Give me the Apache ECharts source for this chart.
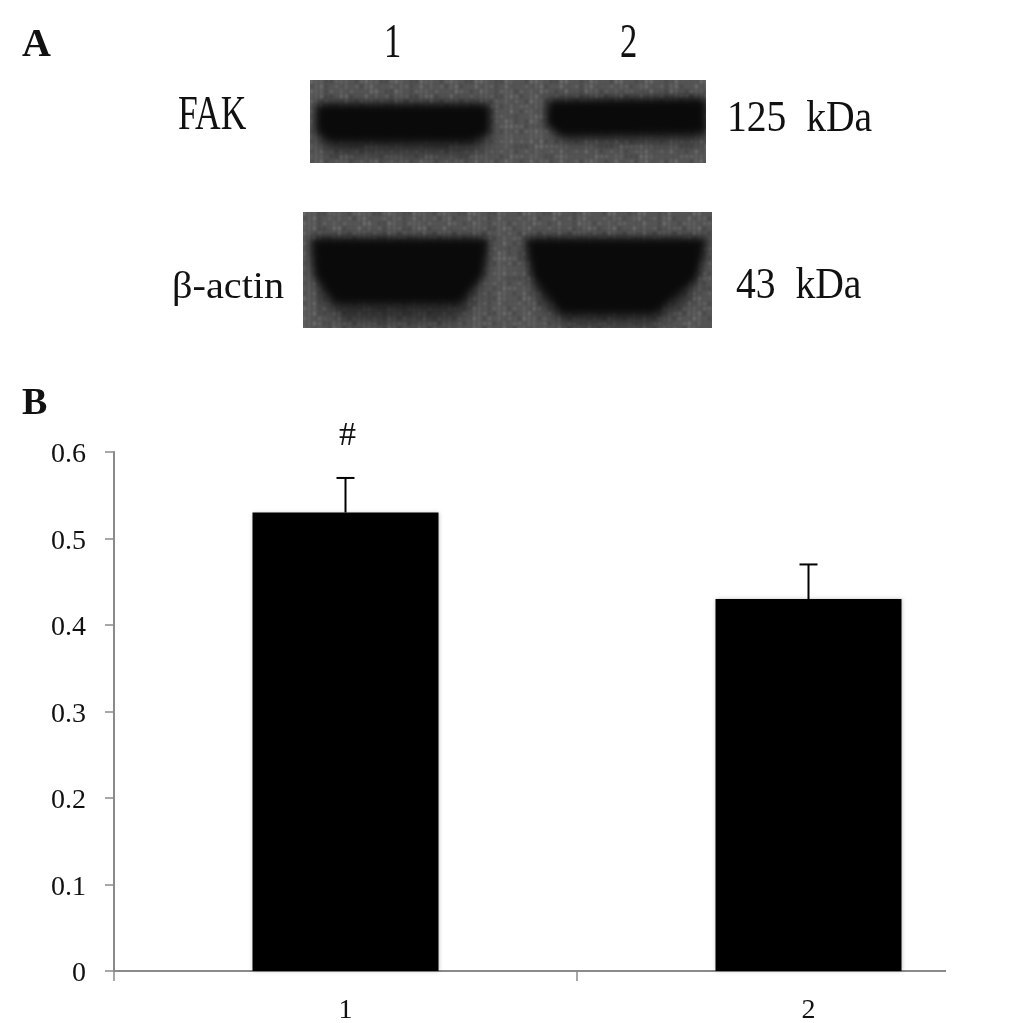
<!DOCTYPE html>
<html>
<head>
<meta charset="utf-8">
<style>
  html, body { margin: 0; padding: 0; background: #fff; }
  #chart { width: 946px; height: 1023px; }
</style>
<script src="https://cdn.jsdelivr.net/npm/echarts@6/dist/echarts.min.js"></script>
</head>
<body>
<div id="chart"></div>
<script>
  var categories = ['1', '2'];
  var values = [0.53, 0.43];
  var errors = [0.04, 0.04];
  var marks = ['#', ''];
  var yTicks = [0, 0.1, 0.2, 0.3, 0.4, 0.5, 0.6];

  var serif = '"Liberation Serif", serif';
  var chart = echarts.init(document.getElementById('chart'), null, { renderer: 'canvas' });

  function polygon (ctx, points, fill) {
    ctx.fillStyle = fill;
    ctx.beginPath();
    points.forEach(function (p, i) {
      if (i === 0) ctx.moveTo(p[0], p[1]);
      else ctx.lineTo(p[0], p[1]);
    });
    ctx.closePath();
    ctx.fill();
  }

  // paints one blot: grey grain, then a soft halo and a dark core per band
  function blot (w, h, halos, cores) {
    var c = document.createElement('canvas');
    c.width = w;
    c.height = h;
    var ctx = c.getContext('2d');
    ctx.fillStyle = '#555';
    ctx.fillRect(0, 0, w, h);
    ctx.filter = 'blur(1px)';
    for (var x = 0; x < w; x += 5) {
      var stripe = (x * 7) % 11 < 5 ? 'rgba(255,255,255,0.05)' : 'rgba(0,0,0,0.08)';
      ctx.fillStyle = stripe;
      ctx.fillRect(x, -4, 2, h + 8);
      for (var y = 0; y < h; y += 5) {
        var k = (x * 13 + y * 29 + x * y) % 17;
        ctx.fillStyle = k < 5 ? 'rgba(255,255,255,0.12)' : (k < 10 ? 'rgba(0,0,0,0.12)' : 'rgba(255,255,255,0.03)');
        ctx.fillRect(x, y, 3, 3);
      }
    }
    ctx.filter = 'blur(7px)';
    halos.forEach(function (p) { polygon(ctx, p, 'rgba(20,20,20,0.6)'); });
    ctx.filter = 'blur(4.5px)';
    cores.forEach(function (p) { polygon(ctx, p, '#0a0a0a'); });
    ctx.filter = 'none';
    return c;
  }

  function label (text, x, y, size, scaleX, weight) {
    return {
      type: 'text',
      x: x,
      y: y,
      scaleX: scaleX,
      style: {
        text: text,
        fill: '#111',
        font: (weight || 'normal') + ' ' + size + 'px ' + serif,
        textAlign: 'left',
        textVerticalAlign: 'middle'
      }
    };
  }

  var fakBlot = blot(396, 83,
    [[[8, 26], [178, 26], [176, 70], [150, 74], [24, 74], [8, 64]],
     [[236, 24], [394, 22], [394, 62], [250, 62]]],
    [[[6, 24], [180, 24], [180, 54], [160, 62], [20, 62], [6, 52]],
     [[238, 20], [396, 18], [396, 54], [250, 56], [236, 44]]]);

  var actinBlot = blot(409, 116,
    [[[8, 30], [184, 30], [172, 92], [150, 110], [40, 110], [18, 88]],
     [[220, 30], [402, 30], [388, 88], [350, 114], [262, 114], [234, 88]]],
    [[[8, 26], [186, 26], [180, 64], [156, 92], [32, 92], [12, 64]],
     [[222, 26], [404, 26], [394, 66], [352, 102], [258, 102], [230, 66]]]);

  var panelA = [
    label('A', 22, 46, 40, 1, 'bold'),
    label('B', 22, 404, 38, 1, 'bold'),
    label('1', 384, 44, 48, 0.72),
    label('2', 620, 44, 48, 0.72),
    label('FAK', 178, 116, 48, 0.74),
    label('125  kDa', 727, 119, 44, 0.9),
    label('β-actin', 172, 288, 38, 1.06),
    label('43  kDa', 736, 286, 44, 0.9),
    { type: 'image', x: 310, y: 80, style: { image: fakBlot, width: 396, height: 83 } },
    { type: 'image', x: 303, y: 212, style: { image: actinBlot, width: 409, height: 116 } }
  ];

  var option = {
    animation: false,
    backgroundColor: '#fff',
    grid: { left: 114, top: 452, width: 926, height: 519, outerBoundsMode: 'none' },
    xAxis: {
      type: 'category',
      data: categories,
      axisLine: { onZero: false, lineStyle: { color: '#8a8a8a', width: 2 } },
      axisTick: { show: true, interval: 0, length: 10, lineStyle: { color: '#8a8a8a', width: 1.5 } },
      axisLabel: { interval: 0, color: '#111', fontFamily: serif, fontSize: 28, margin: 26 }
    },
    yAxis: {
      type: 'value',
      min: yTicks[0],
      max: yTicks[yTicks.length - 1],
      interval: 0.1,
      splitLine: { show: false },
      axisLine: { show: true, lineStyle: { color: '#8a8a8a', width: 2 } },
      axisTick: { show: true, length: 9, lineStyle: { color: '#8a8a8a', width: 1.5 } },
      axisLabel: {
        margin: 28,
        formatter: '{t|{value}}',
        rich: { t: { color: '#111', fontFamily: serif, fontSize: 28, padding: [6, 0, 0, 0] } }
      }
    },
    series: [
      {
        type: 'bar',
        data: values,
        barWidth: 186,
        itemStyle: { color: '#000', shadowBlur: 4, shadowColor: 'rgba(0,0,0,0.25)' }
      },
      {
        type: 'custom',
        data: categories.map(function (c, i) { return [i, values[i], errors[i]]; }),
        z: 3,
        renderItem: function (params, api) {
          var base = api.coord([api.value(0), api.value(1)]);
          var top = api.coord([api.value(0), api.value(1) + api.value(2)]);
          return {
            type: 'group',
            children: [
              { type: 'line', shape: { x1: base[0], y1: base[1], x2: top[0], y2: top[1] }, style: { stroke: '#000', lineWidth: 2 } },
              { type: 'line', shape: { x1: top[0] - 9, y1: top[1], x2: top[0] + 9, y2: top[1] }, style: { stroke: '#000', lineWidth: 2 } },
              {
                type: 'text',
                x: top[0] + 2,
                y: top[1] - 42,
                style: { text: marks[params.dataIndex], fill: '#111', font: '34px ' + serif, textAlign: 'center', textVerticalAlign: 'middle' }
              }
            ]
          };
        }
      }
    ],
    graphic: { elements: panelA }
  };

  chart.setOption(option);
</script>
</body>
</html>
